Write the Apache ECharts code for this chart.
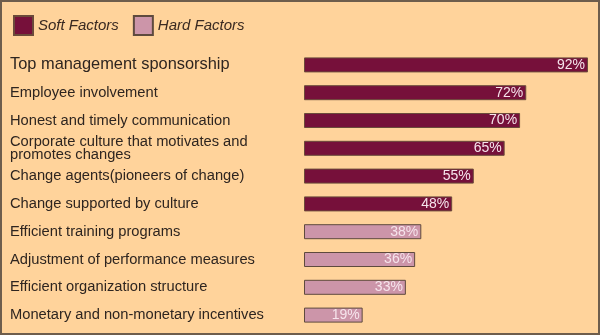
<!DOCTYPE html>
<html><head><meta charset="utf-8">
<script src="https://cdn.jsdelivr.net/npm/echarts@6/dist/echarts.min.js"></script>
<style>html,body{margin:0;padding:0;background:#FFD39B}#c{width:600px;height:335px}</style>
</head><body><div id="c"></div>
<script>
const categories = [
  'Top management sponsorship',
  'Employee involvement',
  'Honest and timely communication',
  'Corporate culture that motivates and\npromotes changes',
  'Change agents(pioneers of change)',
  'Change supported by culture',
  'Efficient training programs',
  'Adjustment of performance measures',
  'Efficient organization structure',
  'Monetary and non-monetary incentives'
];
const softFactors = [92, 72, 70, 65, 55, 48, '-', '-', '-', '-'];
const hardFactors = ['-', '-', '-', '-', '-', '-', 38, 36, 33, 19];
const seriesNames = ['Soft Factors', 'Hard Factors'];

const chart = echarts.init(document.getElementById('c'));
const labelCfg = {show: true, position: 'insideRight', formatter: '{c}%', color: '#f6e4ec', fontSize: 14, fontFamily: 'Liberation Sans', offset: [2, 0]};
chart.setOption({
  backgroundColor: '#FFD39B',
  animation: false,
  graphic: [{type: 'rect', shape: {x: 1, y: 1, width: 598, height: 333}, style: {fill: 'none', stroke: '#6e5d4c', lineWidth: 2}}],
  legend: {
    left: 8, top: 10, itemWidth: 19, itemHeight: 19, itemGap: 14, icon: 'rect',
    textStyle: {fontStyle: 'italic', fontSize: 15, color: '#3a2a22', fontFamily: 'Liberation Sans'},
    data: seriesNames
  },
  grid: {left: 304, right: 12, top: 51, bottom: 6, containLabel: false, outerBoundsMode: 'none'},
  xAxis: {type: 'value', min: 0, max: 92, show: false},
  yAxis: {
    type: 'category', inverse: true,
    data: categories.map((c, i) => i === 0 ? {value: c, textStyle: {fontSize: 16.4, align: 'left'}} : c),
    axisLine: {show: false}, axisTick: {show: false},
    axisLabel: {align: 'left', margin: 294, color: '#2e2520', fontSize: 14.7, lineHeight: 13, fontFamily: 'Liberation Sans'}
  },
  series: [
    {name: seriesNames[0], type: 'bar', stack: 'all', data: softFactors, barWidth: 15,
     itemStyle: {color: '#76103A', borderColor: '#6b4a3a', borderWidth: 1}, label: labelCfg},
    {name: seriesNames[1], type: 'bar', stack: 'all', data: hardFactors, barWidth: 15,
     itemStyle: {color: '#CC95A9', borderColor: '#5e4a3e', borderWidth: 1}, label: labelCfg}
  ]
});
</script></body></html>
